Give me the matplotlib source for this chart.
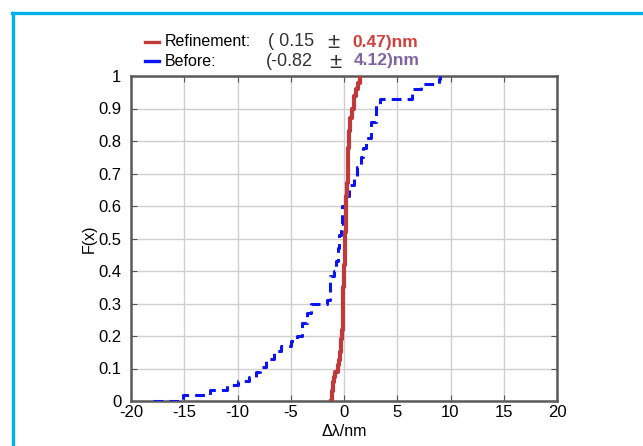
import matplotlib
matplotlib.use("Agg")
import matplotlib.pyplot as plt
from matplotlib.lines import Line2D
from matplotlib.ticker import FormatStrFormatter

plt.rcParams['font.family'] = ['Liberation Sans', 'DejaVu Sans']
plt.rcParams['axes.unicode_minus'] = False

# === DATA ===
# Before: step corners of the empirical CDF
before_x = [-17.9, -15.1, -12.6, -11.0, -10.0, -8.9, -8.3, -7.9, -7.3, -6.6,
            -5.9, -5.0, -4.4, -3.9, -3.5, -3.1, -1.6, -1.3, -0.9, -0.75,
            -0.6, -0.45, -0.3, -0.15, 0.1, 0.45, 0.9, 1.2, 1.6, 1.8,
            2.05, 2.5, 3.0, 3.4, 6.4, 7.2, 8.9, 9.0]
before_F = [0.0, 0.018, 0.035, 0.05, 0.062, 0.075, 0.09, 0.105, 0.13, 0.155,
            0.17, 0.185, 0.2, 0.24, 0.27, 0.3, 0.31, 0.385, 0.40, 0.43,
            0.47, 0.51, 0.545, 0.6, 0.63, 0.665, 0.69, 0.72, 0.75, 0.78,
            0.81, 0.86, 0.91, 0.93, 0.96, 0.975, 0.99, 1.0]

# Refinement: empirical CDF
refine_x = [-1.2, -1.15, -1.05, -0.95, -0.8, -0.6, -0.47, -0.4, -0.3, -0.25,
            -0.18, -0.12, -0.08, -0.05, -0.02, 0.0, 0.05, 0.1, 0.16, 0.22,
            0.3, 0.35, 0.42, 0.5, 0.6, 0.75, 0.9, 1.1, 1.3, 1.5]
refine_F = [0.0, 0.03, 0.06, 0.075, 0.09, 0.11, 0.126, 0.15, 0.17, 0.19,
            0.22, 0.26, 0.3, 0.35, 0.4, 0.42, 0.47, 0.52, 0.58, 0.63,
            0.67, 0.72, 0.78, 0.83, 0.87, 0.9, 0.94, 0.96, 0.98, 1.0]

x_ticks = [-20, -15, -10, -5, 0, 5, 10, 15, 20]
y_ticks = [0, 0.1, 0.2, 0.3, 0.4, 0.5, 0.6, 0.7, 0.8, 0.9, 1]

W, H = 643, 446
fig = plt.figure(figsize=(W / 100, H / 100), dpi=100)
fig.patch.set_facecolor('white')

def fx(px):
    return px / W

def fy(py):
    return 1 - py / H

# === AXES ===
ax = fig.add_axes([fx(131), fy(401), fx(557) - fx(131), fy(76) - fy(401)])
ax.step(before_x, before_F, where='post', color='#0A14F0', lw=2.2,
        linestyle=(0, (3.2, 2.0)), zorder=3)
ax.step(refine_x, refine_F, where='post', color='#C0393B', lw=3.0, zorder=4)

ax.set_xlim(-20, 20)
ax.set_ylim(0, 1)
ax.set_xticks(x_ticks)
ax.set_yticks(y_ticks)
ax.yaxis.set_major_formatter(FormatStrFormatter('%g'))
ax.grid(True, color='#cfcfcf', lw=1.0)
ax.set_axisbelow(True)
ax.tick_params(direction='in', length=4, width=0.8, color='#555555',
               top=True, right=True, labelsize=12)
ax.tick_params(axis='y', pad=7)
ax.tick_params(axis='x', pad=3)
for s in ax.spines.values():
    s.set_color('#5a5a5a')
    s.set_linewidth(1.8)

ax.set_xlabel('Δλ/nm', fontsize=11.5, labelpad=3)
ax.set_ylabel('F(x)', fontsize=11.5, labelpad=1)

# === LEGEND (drawn by hand, MATLAB style) ===
fig.add_artist(Line2D([fx(145), fx(159)], [fy(42), fy(42)], color='#C0393B', lw=2.4))
fig.add_artist(Line2D([fx(145), fx(159)], [fy(61), fy(61)], color='#0A14F0', lw=2.4))
fig.text(fx(165), fy(42), 'Refinement:', fontsize=11.5, va='center')
fig.text(fx(165), fy(61), 'Before:', fontsize=11.5, va='center')
fig.text(fx(268), fy(42), '( 0.15', fontsize=13, va='center', color='#333333')
fig.text(fx(327), fy(43), '±', fontsize=16, va='center', color='#333333')
fig.text(fx(352), fy(42), '0.47)nm', fontsize=12.5, va='center', color='#D0403C', weight='bold')
fig.text(fx(266), fy(61), '(-0.82', fontsize=13, va='center', color='#333333')
fig.text(fx(329), fy(62), '±', fontsize=16, va='center', color='#333333')
fig.text(fx(354), fy(61), '4.12)nm', fontsize=12.5, va='center', color='#8064A2', weight='bold')

# === CYAN FRAME ===
fig.add_artist(Line2D([fx(12.5), fx(12.5)], [0, fy(13)], color='#00B0F0', lw=2.4))
fig.add_artist(Line2D([fx(11.5), 1], [fy(13), fy(13)], color='#00B0F0', lw=2.4))

fig.savefig('out.png', dpi=100)
